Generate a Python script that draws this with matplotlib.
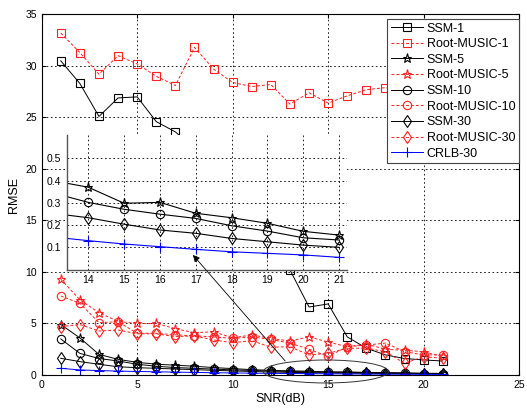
import numpy as np
import matplotlib
matplotlib.use('Agg')
import matplotlib.pyplot as plt
from matplotlib.patches import Ellipse

plt.rcParams['font.family'] = ['Liberation Sans', 'DejaVu Sans']

# data
snr = np.arange(1, 22)
ssm_1 = [30.5, 28.3, 25.1, 26.9, 27.0, 24.6, 23.6, 22.0, 20.0, 18.0, 15.5, 12.8, 10.2,
         6.6, 6.9, 3.7, 2.6, 1.95, 1.6, 1.46, 1.36]
rm_1 = [33.2, 31.3, 29.2, 31.0, 30.2, 29.0, 28.1, 31.8, 29.7, 28.4, 28.0, 28.2, 26.3,
        27.4, 26.4, 27.1, 27.7, 27.9, 27.5, 27.8, 27.6]
ssm_5 = [4.9, 3.6, 2.0, 1.52, 1.23, 1.05, 0.95, 0.85, 0.72, 0.62, 0.52, 0.45, 0.40,
         0.37, 0.298, 0.302, 0.253, 0.233, 0.208, 0.172, 0.155]
rm_5 = [9.3, 7.3, 6.05, 5.2, 5.0, 5.0, 4.5, 4.1, 4.2, 3.6, 3.9, 3.55, 3.3,
        3.7, 3.2, 2.75, 3.0, 2.5, 2.4, 2.26, 1.8]
ssm_10 = [3.5, 2.1, 1.6, 1.36, 1.04, 0.85, 0.72, 0.65, 0.57, 0.50, 0.44, 0.39, 0.345,
          0.302, 0.271, 0.249, 0.23, 0.197, 0.173, 0.143, 0.133]
rm_10 = [7.67, 6.96, 5.08, 5.17, 4.05, 4.05, 3.9, 3.8, 3.7, 3.55, 3.7, 3.45, 3.1,
         2.5, 1.8, 2.75, 2.9, 3.1, 2.27, 1.95, 1.95]
ssm_30 = [1.62, 1.3, 1.04, 0.8, 0.71, 0.65, 0.58, 0.52, 0.45, 0.40, 0.34, 0.29, 0.253,
          0.233, 0.204, 0.178, 0.163, 0.14, 0.125, 0.11, 0.1]
rm_30 = [4.7, 4.9, 4.27, 4.37, 4.0, 4.0, 3.72, 3.8, 3.4, 3.14, 3.33, 2.7, 2.75,
         1.94, 2.1, 2.6, 2.6, 2.27, 1.13, 1.78, 1.62]
crlb_30 = [0.65, 0.49, 0.43, 0.38, 0.34, 0.31, 0.28, 0.25, 0.22, 0.2, 0.18, 0.16, 0.147,
           0.13, 0.115, 0.103, 0.091, 0.08, 0.073, 0.066, 0.055]

dash = (0, (3, 2))
series = [
    ('SSM-1', ssm_1, 'k', '-', 's', 6),
    ('Root-MUSIC-1', rm_1, '#ff2020', dash, 's', 6),
    ('SSM-5', ssm_5, 'k', '-', '*', 6.5),
    ('Root-MUSIC-5', rm_5, '#ff2020', dash, '*', 6.5),
    ('SSM-10', ssm_10, 'k', '-', 'o', 6),
    ('Root-MUSIC-10', rm_10, '#ff2020', dash, 'o', 6),
    ('SSM-30', ssm_30, 'k', '-', 'd', 6),
    ('Root-MUSIC-30', rm_30, '#ff2020', dash, 'd', 6),
    ('CRLB-30', crlb_30, 'b', '-', '+', 7),
]

fig = plt.figure(figsize=(5.27, 4.08), dpi=100)
ax = fig.add_axes([0.0791, 0.0809, 0.906, 0.8836])

for name, vals, c, ls, mk, ms in series:
    ax.plot(snr, vals, color=c, ls=ls, lw=0.7, marker=mk, ms=ms, mfc='none',
            mec=c, mew=0.8, label=name)

ax.set_xlim(0, 25)
ax.set_ylim(0, 35)
ax.set_xticks(range(0, 26, 5))
ax.set_yticks(range(0, 36, 5))
ax.tick_params(direction='in', labelsize=7.5, length=3, top=True, right=True)
ax.grid(True, color='k', ls=(0, (2, 3)), lw=0.6)
ax.set_xlabel('SNR(dB)', fontsize=9, labelpad=2)
ax.set_ylabel('RMSE', fontsize=9, labelpad=4)

leg = ax.legend(loc='upper right', bbox_to_anchor=(1.0, 0.988), borderaxespad=0,
                fontsize=9, handlelength=2.6, handletextpad=0.3, labelspacing=0.29,
                borderpad=0.3, fancybox=False, framealpha=1, edgecolor='#444444')
leg.get_frame().set_linewidth(0.8)
leg.set_zorder(10)

# ellipse marking the zoomed region
ell = Ellipse((14.88, 0.34), 6.55, 2.23, fill=False, ec='#333333', lw=0.7,
              clip_on=False, zorder=5)
ax.add_patch(ell)

# inset
axin = fig.add_axes([0.1271, 0.3392, 0.5313, 0.3301])
axin.set_facecolor('white')
for name, vals, c, ls, mk, ms in series:
    axin.plot(snr, vals, color=c, ls=ls, lw=0.8, marker=mk, ms=ms, mfc='none',
              mec=c, mew=0.8)
axin.set_xlim(13.405, 21.22)
axin.set_ylim(0, 0.605)
axin.set_xticks(range(14, 22))
axin.set_yticks([0.1, 0.2, 0.3, 0.4, 0.5])
axin.tick_params(direction='in', labelsize=7.5, length=0, pad=4)
axin.grid(True, color='k', ls=(0, (2, 3)), lw=0.6)
axin.spines['top'].set_visible(False)
axin.spines['right'].set_visible(False)
for s in ('left', 'bottom'):
    axin.spines[s].set_color('#555555')
    axin.spines[s].set_linewidth(1.0)

axin.annotate('', xy=(16.92, 0.066), xytext=(12.75, 1.36), textcoords=ax.transData,
              arrowprops=dict(arrowstyle='-|>', color='k', lw=0.6, mutation_scale=10,
                              shrinkA=0, shrinkB=0),
              annotation_clip=False)

fig.savefig('out.png', dpi=100)
